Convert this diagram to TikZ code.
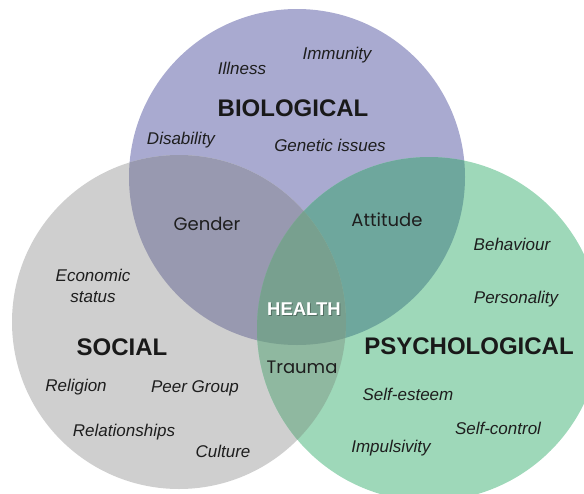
\documentclass[tikz,border=0pt]{standalone}
\usepackage{fontspec}
\setmainfont{Liberation Sans}
\newfontfamily\handfont{Poppins}
\definecolor{cpur}{RGB}{169,170,208}
\definecolor{cgray}{RGB}{207,207,207}
\definecolor{cgreen}{RGB}{158,216,185}
\definecolor{cPS}{RGB}{152,153,176}
\definecolor{cPY}{RGB}{110,167,157}
\definecolor{cSY}{RGB}{143,184,160}
\definecolor{cAll}{RGB}{120,160,143}
\definecolor{ink}{RGB}{30,30,30}
\def\cirP{(297,177) circle[radius=168pt]}
\def\cirS{(179,322) circle[radius=167pt]}
\def\cirY{(429,329) circle[radius=172pt]}
\tikzset{
  item/.style={font=\fontsize{17}{20}\selectfont\itshape, text=ink, inner sep=0pt, text height=12.2pt, text depth=0pt, align=center},
  itemtwo/.style={font=\fontsize{17}{21}\selectfont\itshape, text=ink, inner sep=0pt, text depth=0pt, align=center},
  title/.style={font=\fontsize{24}{28}\selectfont\bfseries, text=black!90, inner sep=0pt, text height=17.2pt, text depth=0pt},
  hand/.style={font=\fontsize{18}{22}\selectfont\handfont, text=ink, inner sep=0pt, text height=13pt, text depth=0pt},
  core/.style={font=\fontsize{18.5}{22}\selectfont\bfseries, text=white, inner sep=0pt, text height=13.3pt, text depth=0pt}
}
\begin{document}
\begin{tikzpicture}[x=1pt,y=-1pt]
\useasboundingbox (0,0) rectangle (584,493);
\fill[cpur] \cirP;
\fill[cgray] \cirS;
\fill[cgreen] \cirY;
\begin{scope}\clip \cirP; \fill[cPS] \cirS; \end{scope}
\begin{scope}\clip \cirP; \fill[cPY] \cirY; \end{scope}
\begin{scope}\clip \cirS; \fill[cSY] \cirY; \end{scope}
\begin{scope}\clip \cirP; \clip \cirS; \fill[cAll] \cirY; \end{scope}
% biological
\node[item] (immunity) at (337,53) {Immunity};
\node[item] (illness) at (242,68) {Illness};
\node[title] (bio) at (293,108) {BIOLOGICAL};
\node[item] (disability) at (181,138) {Disability};
\node[item] (genetic) at (330,145) {Genetic issues};
% overlaps
\node[hand] (gender) at (207,224) {Gender};
\node[hand] (attitude) at (387,220) {Attitude};
\node[hand] (trauma) at (302,367) {Trauma};
\node[core, text=black, opacity=0.3] (healthshadow) at (305,310) {HEALTH};
\node[core] (health) at (304,309) {HEALTH};
% social
\node[itemtwo] (economic) at (93,286) {Economic\\status};
\node[title] (social) at (122,347) {SOCIAL};
\node[item] (religion) at (76,385) {Religion};
\node[item] (peer) at (195,386) {Peer Group};
\node[item] (relation) at (124,430) {Relationships};
\node[item] (culture) at (223,451) {Culture};
% psychological
\node[item] (behaviour) at (512,244) {Behaviour};
\node[item] (personality) at (516,297) {Personality};
\node[title] (psycho) at (469,346) {PSYCHOLOGICAL};
\node[item] (esteem) at (408,394) {Self-esteem};
\node[item] (control) at (498,428) {Self-control};
\node[item] (impuls) at (391,446) {Impulsivity};
\end{tikzpicture}
\end{document}
